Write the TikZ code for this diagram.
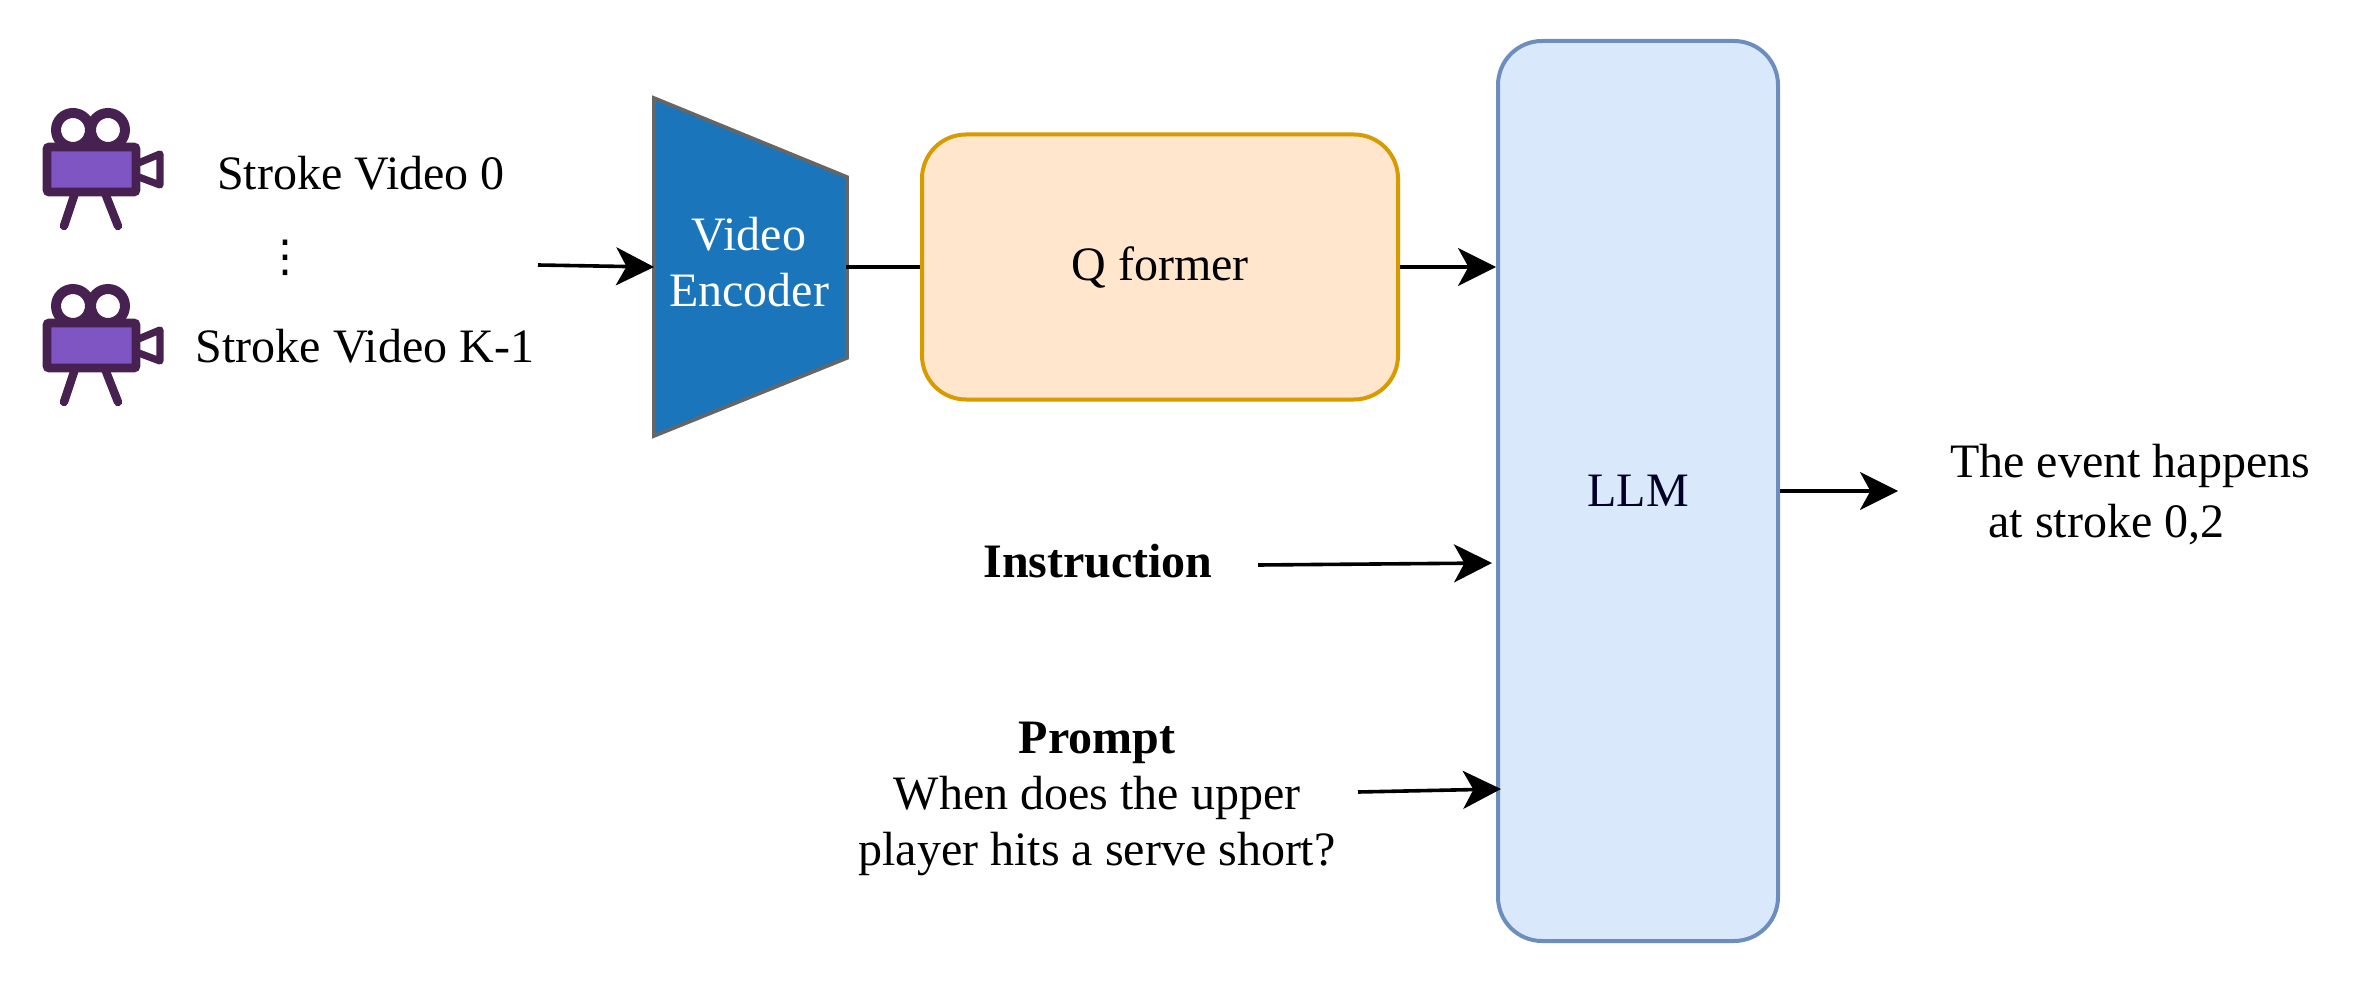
\documentclass[tikz,border=0pt]{standalone}
\usepackage{fontspec}
\setmainfont{Liberation Serif}
\newfontfamily\symfont{DejaVu Sans}
\usetikzlibrary{arrows.meta,positioning}
\definecolor{camdark}{HTML}{47214F}
\definecolor{campurple}{HTML}{7E55C3}
\definecolor{encblue}{HTML}{1A75BB}
\definecolor{qfill}{HTML}{FFE6CC}
\definecolor{qline}{HTML}{D79B00}
\definecolor{llmfill}{HTML}{DAE8FC}
\definecolor{llmline}{HTML}{6C8EBF}
\tikzset{every picture/.style={
  >={Stealth[length=9.5pt,width=9.5pt,inset=2.6pt]}
  }
}

\begin{document}
\begin{tikzpicture}[
    x=0.25pt,
    y=-0.25pt,
    font=\fontsize{12}{14}\selectfont,
    lbl/.style={
      align=center,
      inner sep=0pt
    },
    round box/.style={
      draw,
      line width=1pt,
      rounded corners=11pt,
      inner sep=0pt
    },
    conn/.style={
      line width=0.9pt
    },
    pics/camera/.style={
      code={
        \draw[camdark,line width=2.5pt] (73,130) circle (17) (108,130) circle (17);
        \draw[camdark,line width=2.1pt,line cap=round] (75,193) -- (64,226);
        \draw[camdark,line width=2.1pt,line cap=round] (105,193) -- (118,226);
        \draw[camdark,line width=1.8pt,line join=round] (136,164) -- (160,154)
          -- (160,185) -- (136,176) -- cycle;
        \draw[camdark,fill=campurple,line width=2.2pt,rounded corners=0.6pt]
          (47,147) rectangle (136,192);
      }
    }]

    \useasboundingbox (0,0) rectangle (2356,984);

    % Draw the two cameras.
    \pic (cam0) at (0,0) {camera};
    \pic (cam1) at (0,176) {camera};
    \node[lbl] (vid0) at (361,173) {Stroke Video 0};
    \node[lbl,font=\fontsize{11}{12}\symfont] (dots) at (285,258) {⋮};
    \node[lbl] (vid1) at (365,346) {Stroke Video K-1};

    % Draw the encoder and the boxes.
    \draw[fill=encblue,draw=black!60,line width=0.9pt]
      (654,98) -- (847,177) -- (847,358) -- (654,436) -- cycle;
    \node[lbl,text=white,minimum width=48.25pt] (enc) at (749,262)
      {Video\\Encoder};
    \node[round box,fill=qfill,draw=qline,minimum width=119pt,minimum height=66.25pt]
      (qformer) at (1160,267) {Q former};
    \node[round box,fill=llmfill,draw=llmline,minimum width=70pt,minimum height=225pt,
      text=black!85!blue] (llm) at (1638,491) {LLM};

    % Draw the text inputs and the answer.
    \node[lbl,font=\fontsize{12}{14}\selectfont\bfseries] (instr) at (1098,561) {Instruction};
    \node[lbl] (prompt) at (1097,799)
      {\textbf{Prompt}\\When does the upper\\player hits a serve short?};
    \node[lbl] (answer) at (2130,494.5) {The event happens\\[1pt]at stroke 0,2\hspace*{11.7pt}};

    % Free ends of the connectors.
    \coordinate (vidout) at (538,265);
    \coordinate (instrout) at (1258,565);
    \coordinate (instrin) at (1492,563);
    \coordinate (promptout) at (1358,792);
    \coordinate (promptin) at (1501,789);
    \coordinate (ansin) at (1898,491);

    \draw[conn,->] (vidout) -- ([xshift=0.6pt,yshift=-1.25pt] enc.west);
    \draw[conn] ([yshift=-1.25pt] enc.east) -- (qformer.west);
    \draw[conn,->] (qformer.east) -- (qformer.east -| llm.west);
    \draw[conn,->] (instrout) -- (instrin);
    \draw[conn,->] (promptout) -- (promptin);
    \draw[conn,->] (llm.east) -- (ansin);

  \end{tikzpicture}
\end{document}
